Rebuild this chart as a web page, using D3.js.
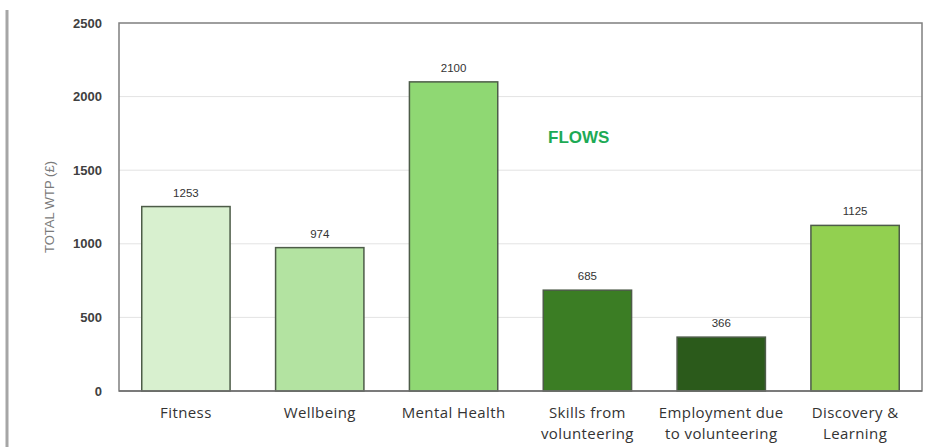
<!DOCTYPE html>
<html>
<head>
<meta charset="utf-8">
<script src="https://cdn.jsdelivr.net/npm/d3@7"></script>
<style>
  html, body { margin: 0; padding: 0; background: #fff; }
  svg { display: block; }
</style>
</head>
<body>
<svg id="chart" width="929" height="447"></svg>
<script>
// Total willingness-to-pay by benefit flow
const categories = [
  ["Fitness"],
  ["Wellbeing"],
  ["Mental Health"],
  ["Skills from", "volunteering"],
  ["Employment due", "to volunteering"],
  ["Discovery &", "Learning"]
];
const values = [1253, 974, 2100, 685, 366, 1125];
const barColors = ["#d8f0cf", "#b3e3a1", "#8fd873", "#3b7d24", "#2b5a1b", "#92d050"];
const yTicks = [0, 500, 1000, 1500, 2000, 2500];
const yTitle = "TOTAL WTP (£)";
const annotation = "FLOWS";

const svg = d3.select("#chart");
const plotLeft = 119, plotRight = 922, plotTop = 23, plotBottom = 391;

const x = d3.scaleBand()
  .domain(d3.range(values.length))
  .range([plotLeft, plotRight])
  .paddingInner(0.34)
  .paddingOuter(0.17);

const y = d3.scaleLinear().domain([0, 2500]).range([plotBottom, plotTop]);

// page edge rule on the left
svg.append("line")
  .attr("x1", 7).attr("x2", 7).attr("y1", 10).attr("y2", 447)
  .attr("stroke", "#a6a6a6").attr("stroke-width", 3);

// gridlines
svg.append("g")
  .selectAll("line")
  .data(yTicks.filter(t => t > 0 && t < 2500))
  .join("line")
  .attr("x1", plotLeft).attr("x2", plotRight)
  .attr("y1", d => y(d)).attr("y2", d => y(d))
  .attr("stroke", "#e3e3e3").attr("stroke-width", 1);

// plot frame
svg.append("rect")
  .attr("x", plotLeft).attr("y", plotTop)
  .attr("width", plotRight - plotLeft).attr("height", plotBottom - plotTop)
  .attr("fill", "none").attr("stroke", "#7f7f7f").attr("stroke-width", 1.5);

// y axis labels
const yAxis = d3.axisLeft(y).tickValues(yTicks).tickFormat(d3.format("d"))
  .tickSize(0).tickPadding(17);
const gy = svg.append("g").attr("transform", `translate(${plotLeft},0)`).call(yAxis);
gy.select(".domain").remove();
gy.selectAll("text")
  .attr("font-family", "Liberation Sans, Arial, sans-serif")
  .attr("font-size", 13).attr("font-weight", "bold").attr("fill", "#404040");

// y title
svg.append("text")
  .attr("transform", `translate(54,${(plotTop + plotBottom) / 2}) rotate(-90)`)
  .attr("text-anchor", "middle")
  .attr("font-family", "Liberation Sans, Arial, sans-serif")
  .attr("font-size", 13).attr("fill", "#7a7a7a")
  .text(yTitle);

// bars
svg.append("g")
  .selectAll("rect")
  .data(values)
  .join("rect")
  .attr("x", (d, i) => x(i))
  .attr("y", d => y(d))
  .attr("width", x.bandwidth())
  .attr("height", d => y(0) - y(d))
  .attr("fill", (d, i) => barColors[i])
  .attr("stroke", "#4d5c48").attr("stroke-width", 1.5);

// bottom axis line drawn over bar edges
svg.append("line")
  .attr("x1", plotLeft).attr("x2", plotRight).attr("y1", plotBottom).attr("y2", plotBottom)
  .attr("stroke", "#6f6f6f").attr("stroke-width", 1.5);

// value labels
svg.append("g")
  .selectAll("text")
  .data(values)
  .join("text")
  .attr("x", (d, i) => x(i) + x.bandwidth() / 2)
  .attr("y", d => y(d) - 10)
  .attr("text-anchor", "middle")
  .attr("font-family", "Liberation Sans, Arial, sans-serif")
  .attr("font-size", 11.5).attr("fill", "#333")
  .text(d => d);

// category labels
const cat = svg.append("g")
  .selectAll("text")
  .data(categories)
  .join("text")
  .attr("x", (d, i) => x(i) + x.bandwidth() / 2)
  .attr("y", 418)
  .attr("text-anchor", "middle")
  .attr("font-family", "Open Sans, sans-serif")
  .attr("font-size", 15).attr("letter-spacing", 0.4).attr("fill", "#333");
cat.selectAll("tspan")
  .data(d => d)
  .join("tspan")
  .attr("x", function () { return d3.select(this.parentNode).attr("x"); })
  .attr("dy", (d, i) => i === 0 ? 0 : 21)
  .text(d => d);

// annotation
svg.append("text")
  .attr("x", 548).attr("y", 143)
  .attr("font-family", "Liberation Sans, Arial, sans-serif")
  .attr("font-size", 17).attr("font-weight", "bold").attr("fill", "#1daa55")
  .text(annotation);
</script>
</body>
</html>
